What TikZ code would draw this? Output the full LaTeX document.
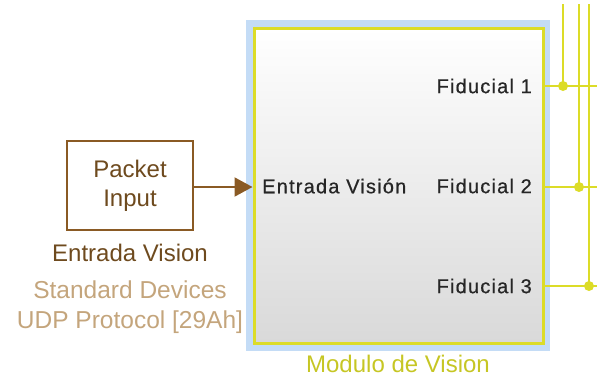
\documentclass[tikz,border=0pt]{standalone}
\usepackage{fontspec}
\setmainfont{Liberation Sans}
\definecolor{brn}{HTML}{8A5A24}
\definecolor{brntxt}{HTML}{6E4A1E}
\definecolor{tan}{HTML}{C4A57C}
\definecolor{ylw}{HTML}{DCDC28}
\definecolor{hl}{HTML}{C4DCF6}
\definecolor{gry}{HTML}{D9D9D9}
\tikzset{
  pkt/.style={draw=brn, line width=2pt, fill=white, minimum width=126pt, minimum height=89pt, inner sep=0pt, align=center, font=\fontsize{24}{29}\selectfont, text=brntxt},
  blk/.style={draw=ylw, line width=3pt, top color=white, bottom color=gry, minimum width=289pt, minimum height=315pt, inner sep=0pt},
  port/.style={font=\fontsize{20}{24}\selectfont\addfontfeature{LetterSpace=6,FakeBold=0.6}, text=black!85, inner sep=0pt},
  wire/.style={ylw, line width=2.4pt},
  dot/.style={circle, fill=ylw, inner sep=0pt, minimum size=10pt},
  arr/.style={brn, line width=2pt, -{Triangle[length=18pt,width=19pt]}}
}
\usetikzlibrary{arrows.meta}
\begin{document}
\begin{tikzpicture}[x=1pt,y=-1pt]
\useasboundingbox (0,0) rectangle (597,378);
\fill[hl] (246,20) rectangle (550,351);
\node[blk] (main) at (398.5,185.5) {};
\node[pkt] (pkt) at (130,185.5) {Packet\\Input};
\node[text=brntxt, font=\fontsize{24}{29}\selectfont] (lbl) at (130,253) {Entrada Vision};
\node[text=tan, font=\fontsize{24.5}{29}\selectfont, align=center] (sub) at (130,307) {Standard Devices\\[1pt]UDP Protocol [29Ah]};
\node[text=ylw!90!black, font=\fontsize{24}{29}\selectfont] (name) at (398,364) {Modulo de Vision};
\node[port, anchor=west] (in) at (262,186) {Entrada Visión};
\node[port, anchor=east] (f1) at (532,86) {Fiducial 1};
\node[port, anchor=east] (f2) at (532,186) {Fiducial 2};
\node[port, anchor=east] (f3) at (532,286) {Fiducial 3};
\draw[arr] (pkt.east |- 0,187) -- (main.west |- 0,187);
\coordinate (o1) at (main.east |- 0,86);
\coordinate (o2) at (main.east |- 0,187);
\coordinate (o3) at (main.east |- 0,286);
\coordinate (e1) at (597,86);
\coordinate (e2) at (597,187);
\coordinate (e3) at (597,286);
\coordinate (t1) at (563,4);
\coordinate (t2) at (579,4);
\coordinate (t3) at (589,4);
\draw[wire] (o1) -- (e1);
\draw[wire] (o2) -- (e2);
\draw[wire] (o3) -- (e3);
\draw[wire] (t1) -- (t1 |- o1);
\draw[wire] (t2) -- (t2 |- o2);
\draw[wire] (t3) -- (t3 |- o3);
\node[dot] (d1) at (t1 |- o1) {};
\node[dot] (d2) at (t2 |- o2) {};
\node[dot] (d3) at (t3 |- o3) {};
\end{tikzpicture}
\end{document}
